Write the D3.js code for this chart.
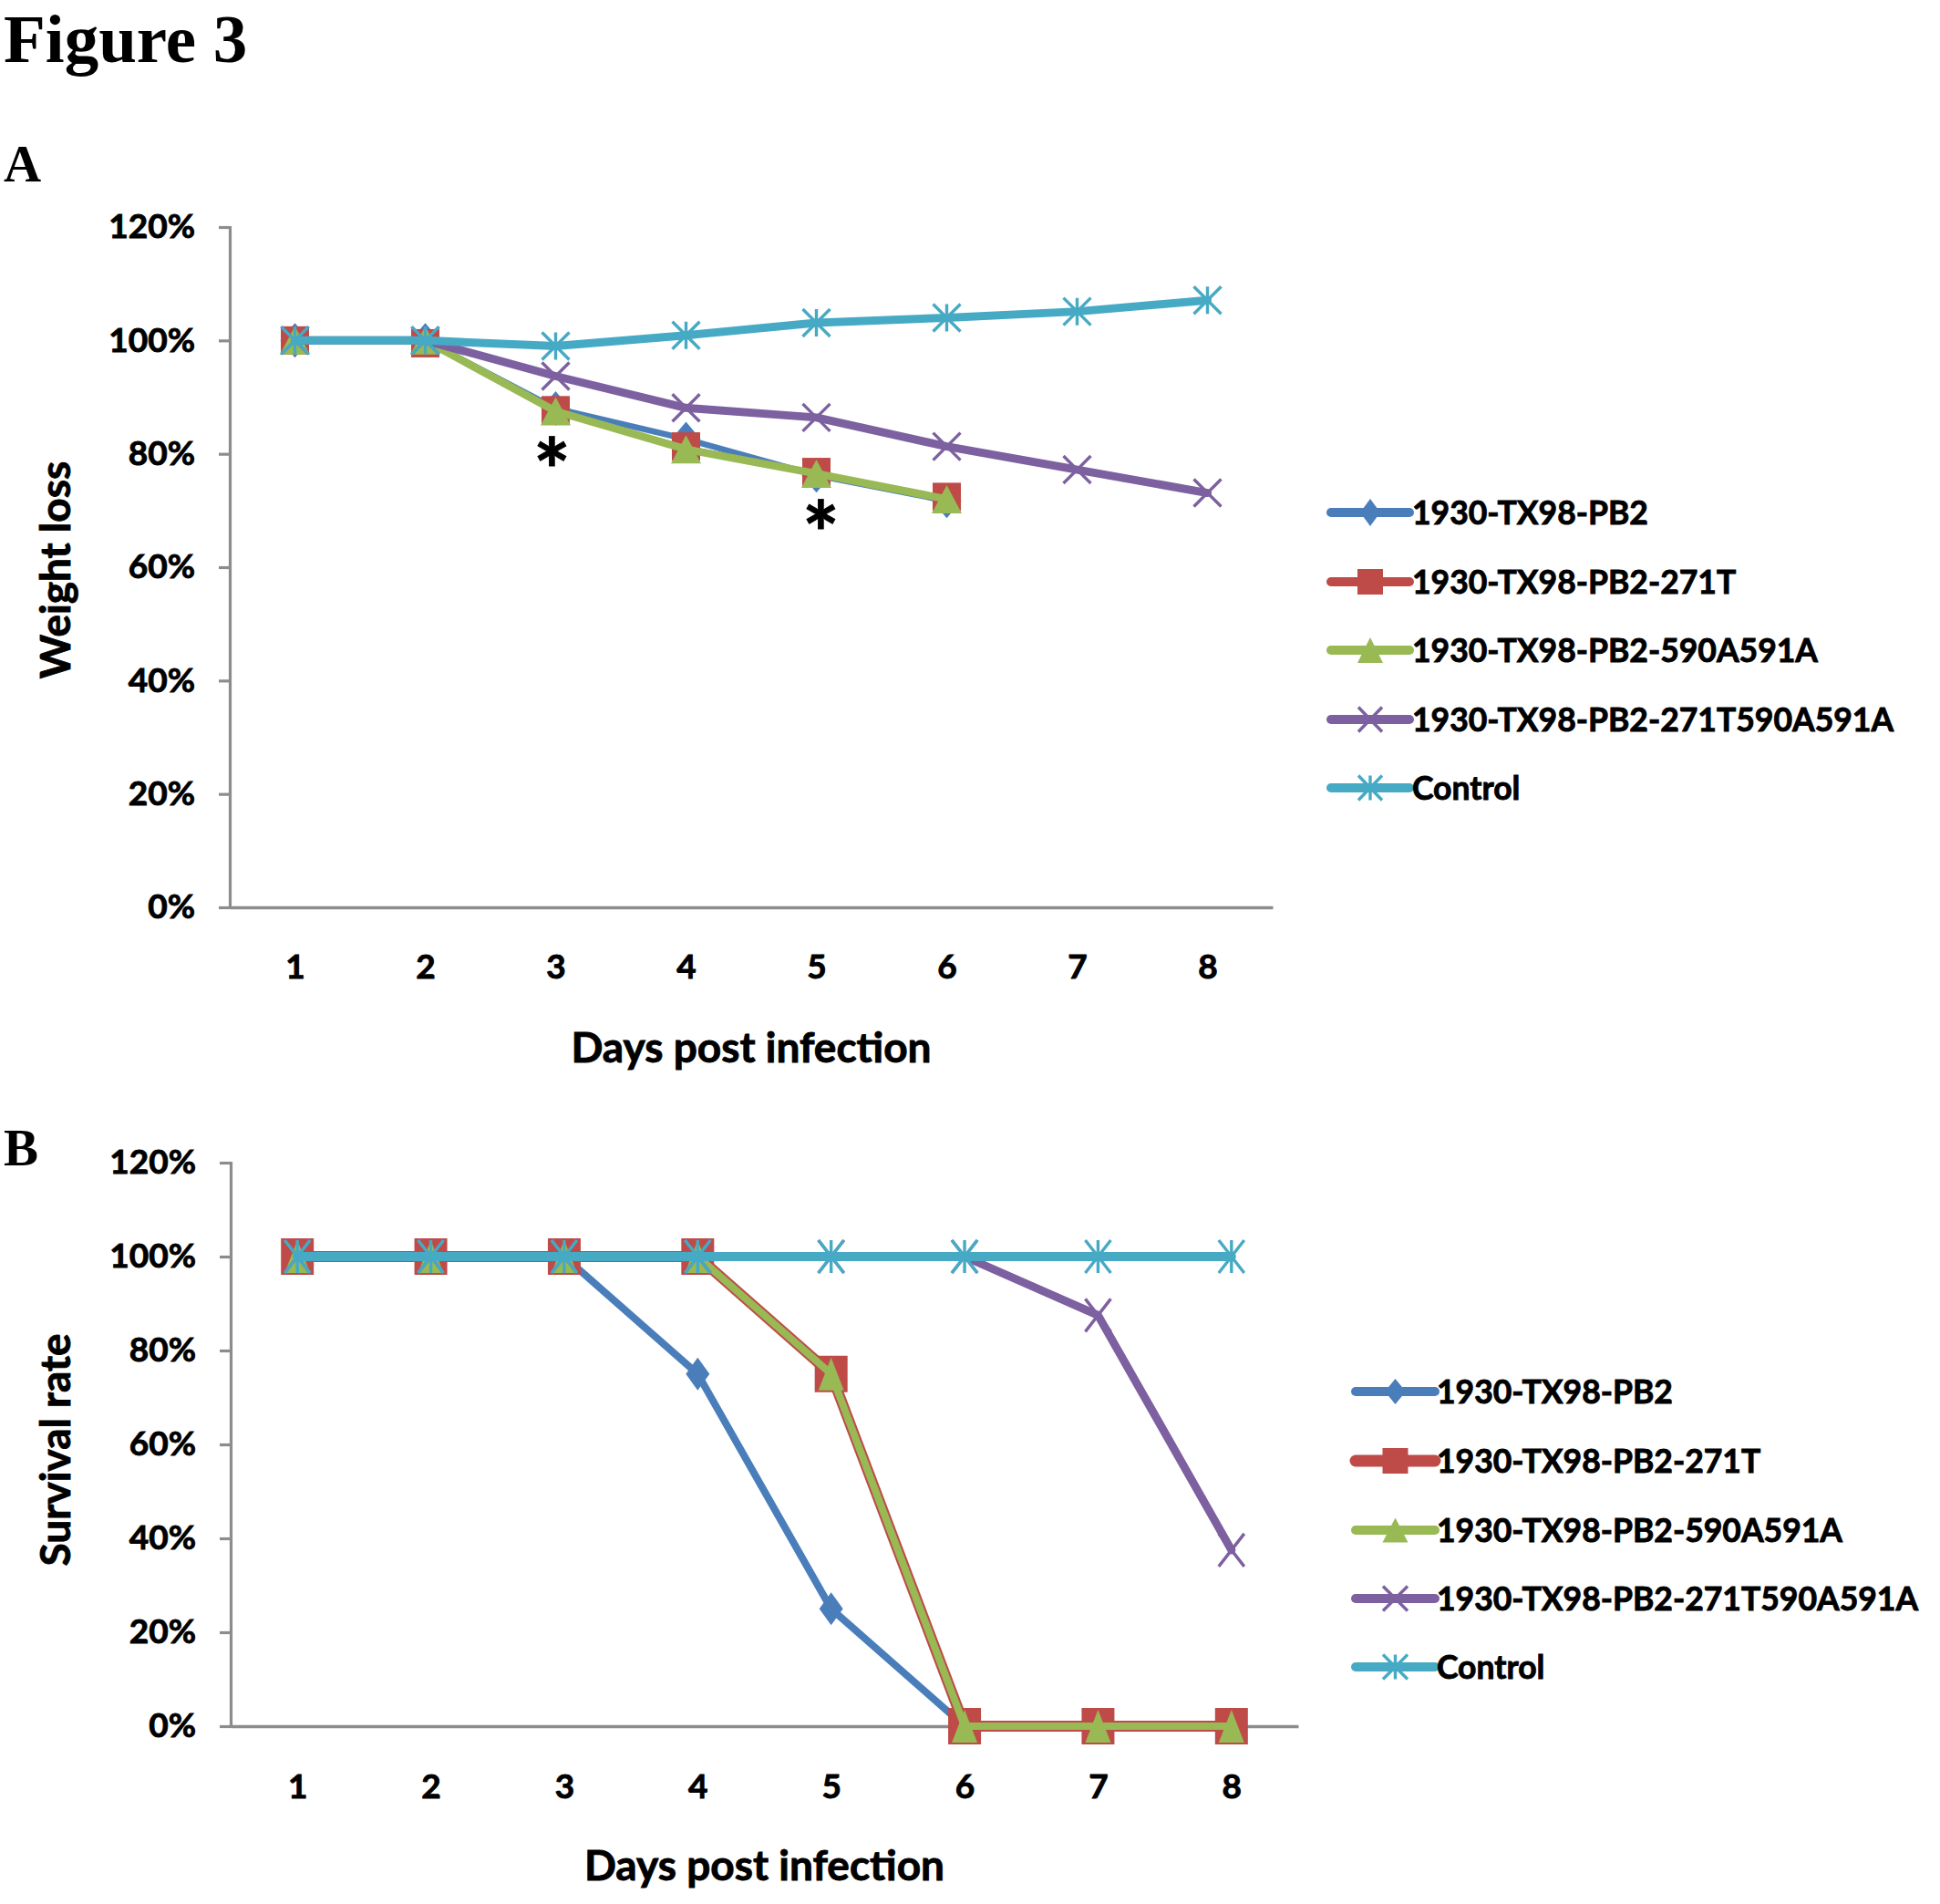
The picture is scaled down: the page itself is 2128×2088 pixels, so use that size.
<!DOCTYPE html>
<html>
<head>
<meta charset="utf-8">
<script src="https://cdn.jsdelivr.net/npm/d3@7"></script>
<style>
  html, body { margin: 0; padding: 0; background: #ffffff; }
  svg { display: block; }
  text { font-family: Lato, "Open Sans", "DejaVu Sans", sans-serif; font-weight: 700; fill: #000; }
  .heavy { stroke: #000; stroke-width: 0.9; paint-order: stroke; }
  .serif { font-family: "Liberation Serif", "DejaVu Serif", serif; font-weight: 700; }
</style>
</head>
<body>
<svg id="chart" width="2128" height="2088"></svg>
<script>
// ---------------- data ----------------
const days = [1, 2, 3, 4, 5, 6, 7, 8];
const seriesNames = [
  "1930-TX98-PB2",
  "1930-TX98-PB2-271T",
  "1930-TX98-PB2-590A591A",
  "1930-TX98-PB2-271T590A591A",
  "Control"
];
const yTicks = [0, 0.2, 0.4, 0.6, 0.8, 1.0, 1.2];

// Panel A: weight (fraction of initial)
const weightPB2       = [1.00, 1.00, 0.880, 0.826, 0.762, 0.717];
const weight271T      = [1.00, 0.995, 0.877, 0.813, 0.768, 0.724];
const weight590A591A  = [1.00, 1.00, 0.875, 0.808, 0.765, 0.720];
const weight271T590A  = [1.00, 1.00, 0.937, 0.881, 0.864, 0.813, 0.772, 0.731];
const weightControl   = [1.00, 1.00, 0.990, 1.009, 1.031, 1.040, 1.051, 1.071];

// Panel B: survival rate
const survPB2       = [1, 1, 1, 0.75, 0.25, 0];
const surv271T      = [1, 1, 1, 1, 0.75, 0, 0, 0];
const surv590A591A  = [1, 1, 1, 1, 0.75, 0, 0, 0];
const surv271T590A  = [1, 1, 1, 1, 1, 1, 0.875, 0.375];
const survControl   = [1, 1, 1, 1, 1, 1, 1, 1];

// significance marks in panel A (day, level of the mark)
const starDays   = [3, 5];
const starLevels = [0.804, 0.692];

// ---------------- styles ----------------
const colors = ["#4A7EBB", "#BE4B48", "#98B954", "#7D60A0", "#46AAC5"];
const markers = ["diamond", "square", "triangle", "x", "star"];

const svg = d3.select("#chart");
svg.append("rect").attr("width", 2128).attr("height", 2088).attr("fill", "#fff");

function markerPath(type, w, h) {
  const a = w / 2, b = h / 2;
  switch (type) {
    case "diamond": return `M0,${-b}L${a},0L0,${b}L${-a},0Z`;
    case "square": return `M${-a},${-b}H${a}V${b}H${-a}Z`;
    case "triangle": return `M0,${-b}L${a},${b}L${-a},${b}Z`;
    case "x": return `M${-a},${-b}L${a},${b}M${-a},${b}L${a},${-b}`;
    case "star": return `M${-a},${-b}L${a},${b}M${-a},${b}L${a},${-b}M0,${-b}V${b}`;
  }
}
function drawMarker(g, type, color, w, h, x, y) {
  const filled = type === "diamond" || type === "square" || type === "triangle";
  g.append("path")
    .attr("d", markerPath(type, w, h))
    .attr("transform", `translate(${x},${y})`)
    .attr("fill", filled ? color : "none")
    .attr("stroke", filled ? "none" : color)
    .attr("stroke-width", filled ? 0 : 3.4);
}

function drawPanel(cfg) {
  const g = svg.append("g");
  const x = d3.scalePoint().domain(days).range(cfg.xRange).padding(0.5);
  const y = d3.scaleLinear().domain([0, 1.2]).range(cfg.yRange);

  // y axis
  const yAxis = d3.axisLeft(y).tickValues(yTicks).tickSize(12).tickPadding(26)
    .tickFormat(d => Math.round(d * 100) + "%");
  const ya = g.append("g").attr("transform", `translate(${cfg.xRange[0]},0)`).call(yAxis);
  ya.select(".domain").attr("stroke", "#8C8C8C").attr("stroke-width", 3.2);
  ya.selectAll(".tick line").attr("stroke", "#8C8C8C").attr("stroke-width", 3.2);
  ya.selectAll(".tick text").attr("class", "heavy").attr("font-size", 37).attr("font-family", "Lato")
    .attr("font-weight", 700).attr("fill", "#000");

  // x axis (no tick marks)
  const xAxis = d3.axisBottom(x).tickSize(0).tickPadding(0);
  const xa = g.append("g").attr("transform", `translate(0,${cfg.yRange[0]})`).call(xAxis);
  xa.select(".domain").attr("stroke", "#8C8C8C").attr("stroke-width", 3.6);
  xa.selectAll(".tick text").attr("class", "heavy").attr("font-size", 37).attr("font-family", "Lato")
    .attr("font-weight", 700).attr("fill", "#000").attr("dy", null).attr("y", cfg.xLabelBase - cfg.yRange[0]);

  // axis titles
  g.append("text").attr("class", "heavy").attr("x", (cfg.xRange[0] + cfg.xRange[1]) / 2 + cfg.xTitleDx).attr("y", cfg.xTitleBase)
    .attr("text-anchor", "middle").attr("font-size", 46).text("Days post infection");
  g.append("text").attr("class", "heavy").attr("transform", `translate(${cfg.yTitleX},${cfg.yTitleY}) rotate(-90)`)
    .attr("text-anchor", "middle").attr("font-size", 46).text(cfg.yTitle);

  // series
  const line = d3.line().x((d, i) => x(days[i])).y(d => y(d));
  cfg.series.forEach((s, si) => {
    const sg = g.append("g");
    sg.append("path").attr("d", line(s)).attr("fill", "none")
      .attr("stroke", colors[si]).attr("stroke-width", cfg.lw[si])
      .attr("stroke-linejoin", "round").attr("stroke-linecap", "round");
    s.forEach((v, i) => {
      drawMarker(sg, markers[si], colors[si], cfg.mk[si][0], cfg.mk[si][1], x(days[i]), y(v));
    });
  });

  // legend
  const lg = g.append("g");
  seriesNames.forEach((name, si) => {
    const yy = cfg.legendY[si];
    lg.append("line").attr("x1", cfg.legendX[0]).attr("x2", cfg.legendX[1]).attr("y1", yy).attr("y2", yy)
      .attr("stroke", colors[si]).attr("stroke-width", cfg.legLw[si]).attr("stroke-linecap", "round");
    drawMarker(lg, markers[si], colors[si], cfg.legMk[si][0], cfg.legMk[si][1], (cfg.legendX[0] + cfg.legendX[1]) / 2, yy);
    lg.append("text").attr("class", "heavy").attr("x", cfg.legendTextX).attr("y", yy).attr("dy", "0.36em")
      .attr("font-size", 35.5).text(name);
  });

  return {g, x, y};
}

// Titles
svg.append("text").attr("class", "serif").attr("x", 4).attr("y", 68).attr("font-size", 75).text("Figure 3");
svg.append("text").attr("class", "serif").attr("x", 4).attr("y", 199).attr("font-size", 57).text("A");
svg.append("text").attr("class", "serif").attr("x", 4).attr("y", 1278).attr("font-size", 57).text("B");

const panelA = drawPanel({
  xRange: [252, 1396], yRange: [995, 249],
  xLabelBase: 1073, xTitleBase: 1165, xTitleDx: 0,
  yTitle: "Weight loss", yTitleX: 77, yTitleY: 625,
  series: [weightPB2, weight271T, weight590A591A, weight271T590A, weightControl],
  lw: [6.5, 2.5, 8.5, 9, 9],
  mk: [[32, 38], [31, 31], [33, 31], [30, 30], [30, 30]],
  legendX: [1460, 1546], legendTextX: 1549,
  legendY: [562, 638, 713, 789, 864],
  legLw: [10, 10, 10, 10, 10],
  legMk: [[22, 30], [28, 28], [28, 28], [26, 27], [26, 27]]
});

const panelB = drawPanel({
  xRange: [253, 1424], yRange: [1893, 1275],
  xLabelBase: 1972, xTitleBase: 2062, xTitleDx: 0,
  yTitle: "Survival rate", yTitleX: 77, yTitleY: 1590,
  series: [survPB2, surv271T, surv590A591A, surv271T590A, survControl],
  lw: [8, 12, 8, 9, 10],
  mk: [[26, 36], [36, 40], [28, 36], [28, 36], [28, 36]],
  legendX: [1487, 1574], legendTextX: 1576,
  legendY: [1526, 1602, 1678, 1753, 1828],
  legLw: [10, 13, 10, 10, 10],
  legMk: [[23, 28], [28, 28], [28, 27], [27, 27], [27, 27]]
});

// significance asterisks in panel A
const starSize = 96;
starDays.forEach((d, i) => {
  const dx = i === 0 ? -4 : 5;
  panelA.g.append("text").attr("class", "heavy").attr("text-anchor", "middle").attr("font-size", starSize)
    .attr("x", panelA.x(d) + dx)
    .attr("y", panelA.y(starLevels[i]) + 0.58 * starSize)
    .text("*");
});
</script>
</body>
</html>
